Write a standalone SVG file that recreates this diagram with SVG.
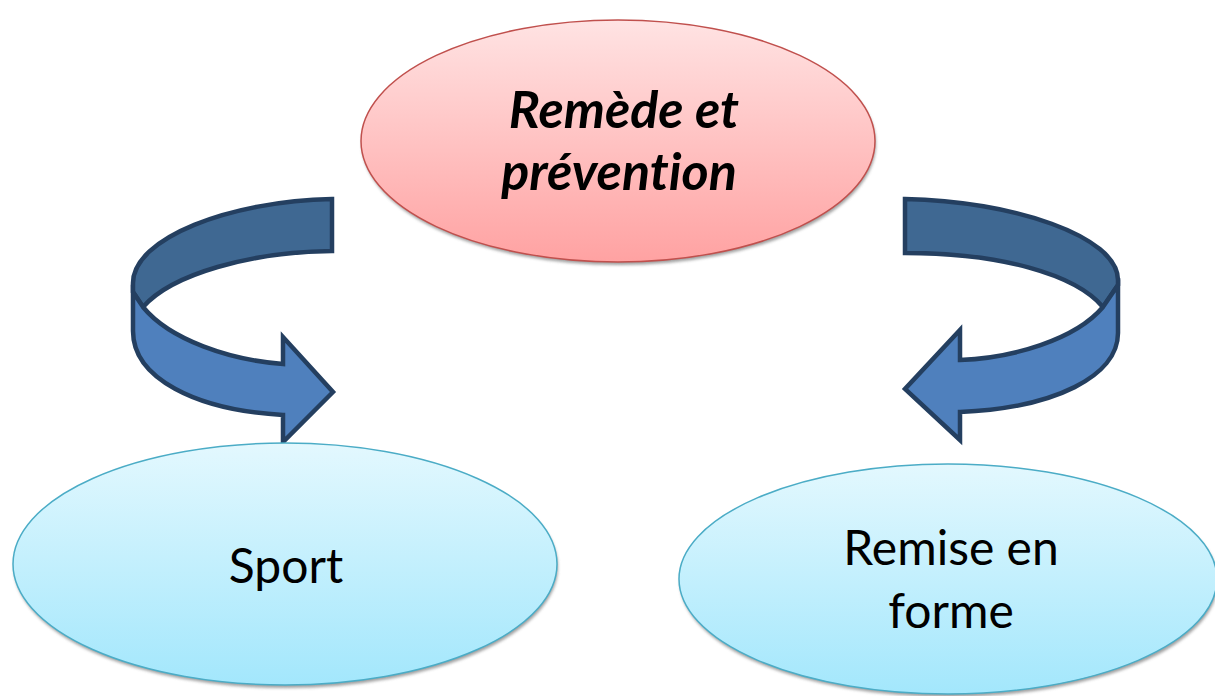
<svg xmlns="http://www.w3.org/2000/svg" width="1215" height="696" viewBox="0 0 1215 696">
<defs>
<linearGradient id="gRed" x1="0" y1="0" x2="0" y2="1">
<stop offset="0" stop-color="#FFE3E3"/>
<stop offset="1" stop-color="#FFA2A2"/>
</linearGradient>
<linearGradient id="gBlue" x1="0" y1="0" x2="0" y2="1">
<stop offset="0" stop-color="#E3F8FE"/>
<stop offset="1" stop-color="#A3E7FC"/>
</linearGradient>
<filter id="sh" x="-10%" y="-10%" width="120%" height="130%">
<feGaussianBlur stdDeviation="1.5"/>
</filter>
<style>
.shadow{fill:#8a8a8a;filter:url(#sh);opacity:0.8}
.red{fill:url(#gRed);stroke:#C0504D;stroke-width:1.5}
.blue{fill:url(#gBlue);stroke:#4BACC6;stroke-width:1.5}
.dark{fill:#3F6892;stroke:#243F60;stroke-width:4.5;stroke-linejoin:miter}
.light{fill:#4F80BD;stroke:#243F60;stroke-width:4.5;stroke-linejoin:miter}
.t{font-family:Lato,"Open Sans","Liberation Sans",sans-serif;fill:#000;text-anchor:middle;font-variant-ligatures:none}
.big{font-size:52px;font-weight:bold;font-style:italic}
.norm{font-size:48px}
</style>
</defs>
<g id="connectors">
<g id="arrow-left">
<path class="dark" d="M332,199 C230,201 133,238 133,283 L133,292 L143,307 C172,274 250,252 332,251 Z"/>
<path class="light" d="M133,292 L143,307 C170,340 230,360 283,364 L283,337 L333,392 L283,442 L283,415 C195,410 133,378 133,331 Z"/>
</g>
<g id="arrow-right">
<path class="dark" d="M905,199 C1012,201 1118,236 1118,280 L1118,285 L1103,307 C1075,274 1000,253 905,253 Z"/>
<path class="light" d="M1118,285 L1103,307 C1075,340 1012,358 960,360 L960,330 L905,389 L960,440 L960,412 C1055,408 1118,376 1118,333 Z"/>
</g>
</g>
<g id="node-top">
<ellipse class="shadow" cx="619" cy="144" rx="257" ry="121"/>
<ellipse class="red" cx="618" cy="141" rx="257" ry="121"/>
<text class="t big" x="624" y="128">Remède et</text>
<text class="t big" x="619" y="190">prévention</text>
</g>
<g id="node-sport">
<ellipse class="shadow" cx="286" cy="567" rx="272" ry="121"/>
<ellipse class="blue" cx="285" cy="564" rx="272" ry="121"/>
<text class="t norm" x="286" y="583">Sport</text>
</g>
<g id="node-forme">
<ellipse class="shadow" cx="949" cy="582" rx="269" ry="115"/>
<ellipse class="blue" cx="948" cy="579" rx="269" ry="115"/>
<text class="t norm" x="951" y="565">Remise en</text>
<text class="t norm" x="951" y="628">forme</text>
</g>
</svg>
